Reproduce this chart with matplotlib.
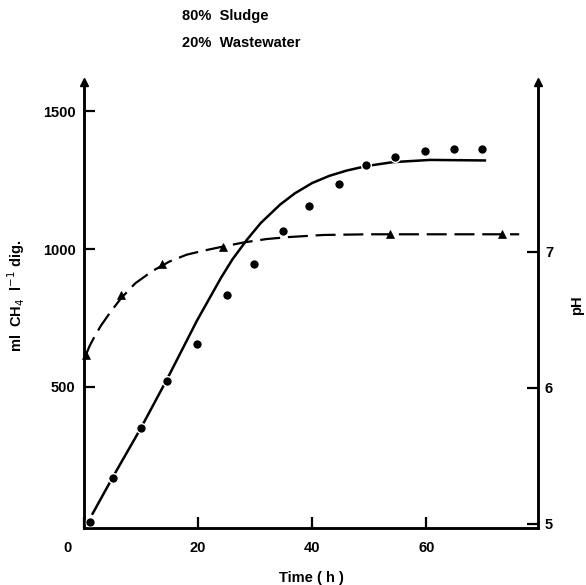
import matplotlib
matplotlib.use("Agg")
import matplotlib.pyplot as plt
from matplotlib.transforms import ScaledTranslation

plt.rcParams['font.family'] = ['Liberation Sans', 'DejaVu Sans']

# measured methane (circles)
time_ch4 = [1, 5, 10, 14.5, 19.8, 25, 29.8, 34.9, 39.5, 44.7, 49.5, 54.6, 59.8, 64.9, 69.8]
ml_ch4 = [9, 169, 351, 522, 656, 834, 947, 1064, 1158, 1235, 1304, 1336, 1355, 1365, 1362]

# fitted methane curve (solid)
fit_time = [1.4, 5, 10, 14.5, 19.8, 24, 26, 28.6, 31, 34.4, 37, 40, 43, 46, 49.6, 54.2, 60.7, 70.5]
fit_ml = [35, 170, 351, 525, 740, 895, 962, 1035, 1095, 1162, 1203, 1240, 1266, 1285, 1302, 1316, 1324, 1322]

# measured pH (triangles)
time_ph = [0.3, 6.5, 13.7, 24.4, 53.7, 73.3]
ph_vals = [6.24, 6.68, 6.91, 7.04, 7.13, 7.13]

# pH curve (dashed)
phfit_time = [0.3, 1, 2, 3, 4.5, 6.5, 9, 12, 15, 18, 21, 24.4, 28, 32, 36, 42, 50, 76.3]
phfit_vals = [6.24, 6.31, 6.39, 6.46, 6.55, 6.66, 6.77, 6.86, 6.93, 6.98, 7.01, 7.04, 7.07, 7.095, 7.11, 7.125, 7.13, 7.13]

x_ticks = [0, 20, 40, 60]
y_ticks = [500, 1000, 1500]
ph_ticks = [5, 6, 7]

W, H = 586, 585
fig = plt.figure(figsize=(W / 100, H / 100), dpi=100)
ax = fig.add_axes([84 / W, 1 - 528 / H, (538 - 84) / W, (528 - 82) / H])
ax2 = ax.twinx()

ax.set_xlim(0, 79.6)
ax.set_ylim(-13, 1607)
ax2.set_ylim(4.97, 8.25)

lw_sp = 1.8
for a in (ax, ax2):
    a.spines['top'].set_visible(False)
    for s in ('left', 'right', 'bottom'):
        a.spines[s].set_linewidth(lw_sp)

ax.plot(fit_time, fit_ml, color='black', lw=1.8, solid_capstyle='butt', zorder=2)
ax.plot(time_ch4, ml_ch4, 'o', color='black', ms=7, mec='white', mew=1.0, zorder=3)

ax2.plot(phfit_time, phfit_vals, color='black', lw=1.6, dashes=(9, 3.5), zorder=2)
ax2.plot(time_ph, ph_vals, '^', color='black', ms=5.5, mec='black', mew=0.5, zorder=3, clip_on=False)

ax.set_xticks(x_ticks)
ax.set_yticks(y_ticks)
ax2.set_yticks(ph_ticks)
ax.tick_params(axis='both', direction='in', length=8, width=1.6, labelsize=10.5, pad=6)
ax.tick_params(axis='x', pad=9)
ax2.tick_params(axis='y', direction='in', length=8, width=1.6, labelsize=10.5, pad=5)
for lab in ax.get_xticklabels() + ax.get_yticklabels() + ax2.get_yticklabels():
    lab.set_fontweight('bold')

# shift "0" label slightly to left like original
xl = ax.get_xticklabels()
xl[0].set_transform(xl[0].get_transform() + ScaledTranslation(-16 / 100, 0, fig.dpi_scale_trans))

# arrows on top of vertical axes
for xa in (0, 1):
    ax.plot([xa], [1.0], marker='^', ms=6, color='black', transform=ax.transAxes, clip_on=False, zorder=5)

ax.set_xlabel('Time ( h )', fontsize=10.5, fontweight='bold', labelpad=12)
ax.set_ylabel(r'ml  CH$_4$  l$^{-1}$ dig.', fontsize=10.5, fontweight='bold')
ax.yaxis.set_label_coords(-0.125, (528 - 296) / (528 - 82))
ax2.set_ylabel('pH', fontsize=10.5, fontweight='bold', labelpad=12)

fig.text(182 / W, 1 - 16 / H, '80%  Sludge', fontsize=10.5, fontweight='bold', va='center', ha='left')
fig.text(182 / W, 1 - 43 / H, '20%  Wastewater', fontsize=10.5, fontweight='bold', va='center', ha='left')

fig.savefig('out.png', dpi=100)
